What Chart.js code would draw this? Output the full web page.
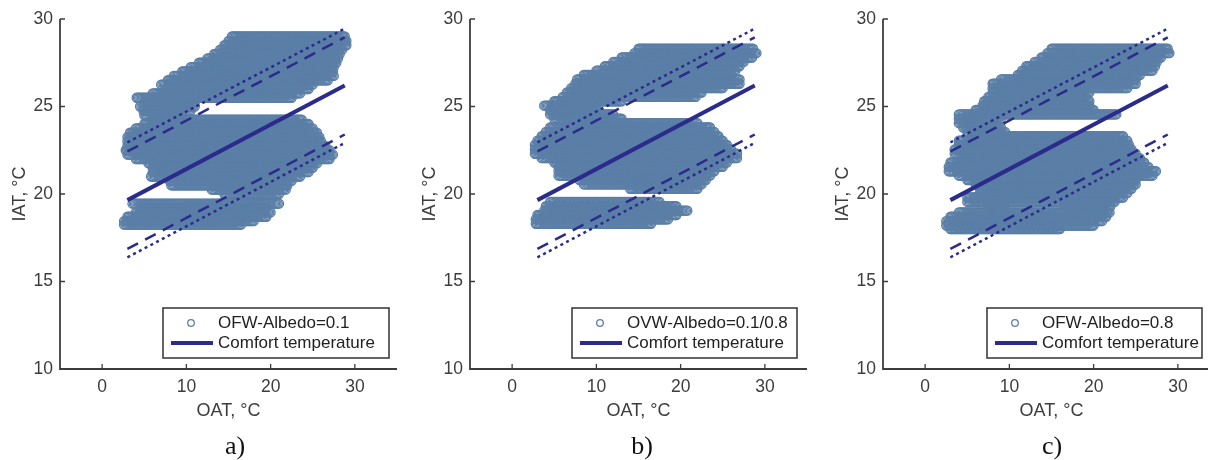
<!DOCTYPE html>
<html lang="en">
<head>
<meta charset="UTF-8">
<title>IAT vs OAT</title>
<script src="https://cdn.jsdelivr.net/npm/chart.js"></script>
<style>
  html, body { margin: 0; padding: 0; background: #fff; overflow: hidden; }
  body { width: 1208px; height: 460px; position: relative; }
  .panel { position: absolute; top: 0; width: 410px; height: 460px; }
  .caption { position: absolute; top: 433px; width: 60px; text-align: center; line-height: 1;
             font-family: "Liberation Serif", "Times New Roman", serif; font-size: 26px; color: #111; }
</style>
</head>
<body>
<div class="panel" style="left:0px"><canvas id="chartA"></canvas></div>
<div class="panel" style="left:410px"><canvas id="chartB"></canvas></div>
<div class="panel" style="left:823px"><canvas id="chartC"></canvas></div>
<div class="caption" style="left:205px">a)</div>
<div class="caption" style="left:612px">b)</div>
<div class="caption" style="left:1022px">c)</div>

<script>
// axis ticks
const oatTicks = [0, 10, 20, 30];
const iatTicks = [10, 15, 20, 25, 30];

// comfort band, same in every panel (OAT start/end of each line)
const bandOat = [3, 28.8];
const comfort = [19.65, 26.2];
const dashUpper = [22.43, 28.95];
const dashLower = [16.86, 23.4];
const dotUpper = [22.95, 29.45];
const dotLower = [16.38, 22.92];

// scatter clouds: one row per IAT level -> [IAT, OAT from, OAT to]
const cloudA = [
  [29.0, 15.4, 28.8], [28.75, 15.0, 29.0], [28.5, 14.5, 29.0], [28.25, 14.0, 28.5],
  [28.0, 13.3, 28.2], [27.75, 12.5, 28.0], [27.5, 11.5, 27.8], [27.25, 10.5, 27.5],
  [27.0, 9.5, 27.4], [26.75, 8.5, 27.5], [26.5, 7.8, 26.8], [26.25, 7.0, 25.0],
  [26.0, 7.5, 24.5], [25.75, 6.0, 23.5], [25.5, 4.1, 22.5], [25.25, 5.0, 11.0],
  [25.0, 4.5, 11.0], [24.75, 4.9, 10.5], [24.5, 5.0, 9.5],
  [24.25, 6.0, 23.7], [24.0, 5.0, 24.5], [23.75, 4.0, 25.0], [23.5, 3.3, 25.5],
  [23.25, 3.0, 25.8], [23.0, 3.0, 26.0], [22.75, 3.0, 26.5], [22.5, 2.8, 27.0],
  [22.25, 3.0, 27.4], [22.0, 4.0, 27.0], [21.75, 5.5, 25.5], [21.5, 6.0, 25.0],
  [21.25, 6.0, 24.5], [21.0, 5.8, 23.5], [20.75, 8.0, 22.5], [20.5, 8.2, 22.0],
  [20.25, 13.0, 21.8], [20.0, 14.5, 21.0],
  [19.45, 3.6, 21.0], [19.2, 4.5, 19.5], [18.95, 4.0, 20.0], [18.7, 3.0, 19.5],
  [18.45, 2.6, 18.0], [18.25, 2.6, 16.5]
];
const cloudB = [
  [28.3, 15.0, 28.6], [28.05, 14.5, 29.0], [27.8, 13.0, 28.5], [27.55, 12.0, 27.5],
  [27.3, 11.0, 27.0], [27.05, 10.0, 26.5], [26.8, 8.5, 26.0], [26.55, 7.7, 27.0],
  [26.3, 7.5, 27.0], [26.05, 7.0, 25.0], [25.8, 6.5, 22.5], [25.55, 6.0, 21.8],
  [25.3, 5.0, 13.0], [25.05, 3.8, 10.0], [24.8, 4.5, 10.0], [24.55, 4.5, 12.0],
  [24.3, 5.0, 13.0],
  [24.05, 8.0, 22.0], [23.8, 4.5, 23.5], [23.55, 4.0, 24.0], [23.3, 3.5, 24.5],
  [23.05, 3.0, 25.0], [22.8, 2.7, 25.5], [22.55, 2.7, 26.0], [22.3, 2.7, 26.7],
  [22.05, 3.5, 26.7], [21.8, 5.0, 25.5], [21.55, 5.5, 25.0], [21.3, 5.5, 24.0],
  [21.05, 5.5, 23.5], [20.8, 8.0, 23.0], [20.55, 8.5, 22.5], [20.3, 14.0, 22.0],
  [19.55, 4.5, 17.5], [19.3, 4.0, 19.5], [19.05, 3.8, 20.8], [18.8, 3.0, 19.5],
  [18.55, 2.8, 18.5], [18.3, 2.8, 16.5]
];
const cloudC = [
  [28.3, 15.0, 28.8], [28.05, 14.5, 29.0], [27.8, 13.8, 28.0], [27.55, 13.0, 27.5],
  [27.3, 12.0, 27.3], [27.05, 11.5, 27.0], [26.8, 11.0, 25.5], [26.55, 9.0, 25.0],
  [26.3, 8.0, 25.0], [26.05, 8.0, 24.0], [25.8, 8.0, 19.5], [25.55, 7.5, 19.0],
  [25.3, 7.0, 19.5], [25.05, 6.8, 19.5], [24.8, 6.0, 20.0], [24.55, 4.0, 22.7],
  [24.3, 4.0, 9.0], [24.05, 4.0, 8.5], [23.8, 4.5, 9.0], [23.55, 5.0, 9.5],
  [23.3, 5.5, 23.5], [23.05, 4.0, 24.0], [22.8, 4.0, 24.2], [22.55, 3.5, 24.5],
  [22.3, 3.5, 25.0], [22.05, 4.3, 25.5], [21.8, 3.0, 26.0], [21.55, 2.8, 26.5],
  [21.3, 2.8, 27.4], [21.05, 4.0, 27.0], [20.8, 5.0, 25.0], [20.55, 6.0, 25.0],
  [20.3, 6.5, 24.5], [20.05, 6.5, 24.0], [19.8, 5.0, 23.5], [19.55, 5.0, 22.5],
  [19.3, 7.5, 9.5], [19.3, 16.5, 22.0],
  [18.95, 4.0, 21.9], [18.7, 3.0, 21.5], [18.45, 2.5, 21.0], [18.2, 2.5, 20.0],
  [18.0, 3.0, 16.0]
];

const OAT_STEP = 0.15;
const SERIES_COLOR = '#5b7fa7';
const LINE_COLOR = '#2b2b8c';
const AXIS_COLOR = '#3d3d3d';
const FONT = '"Liberation Sans", Arial, Helvetica, sans-serif';

// rows of markers along each cloud row
function cloudPoints(rows) {
  const pts = [];
  rows.forEach(([iat, from, to]) => {
    const n = Math.max(1, Math.round((to - from) / OAT_STEP));
    for (let i = 0; i <= n; i++) pts.push({ x: from + (to - from) * i / n, y: iat });
  });
  return pts;
}

function bandLine(vals, dash, width, order) {
  return {
    data: bandOat.map((x, i) => ({ x: x, y: vals[i] })),
    showLine: true, borderColor: LINE_COLOR, borderWidth: width, borderDash: dash,
    pointRadius: 0, order: order
  };
}

// MATLAB-like axes: L-shaped box, inward ticks, boxed legend bottom right
const matlabAxes = {
  id: 'matlabAxes',
  afterDraw(chart, args, opts) {
    const { ctx, chartArea: a, scales: { x, y } } = chart;
    ctx.save();
    ctx.strokeStyle = AXIS_COLOR;
    ctx.lineWidth = 1.8;
    ctx.beginPath();
    ctx.moveTo(a.left, a.top);
    ctx.lineTo(a.left, a.bottom);
    ctx.lineTo(a.right, a.bottom);
    ctx.stroke();
    ctx.lineWidth = 1.3;
    ctx.beginPath();
    x.ticks.forEach(t => {
      const px = x.getPixelForValue(t.value);
      ctx.moveTo(px, a.bottom); ctx.lineTo(px, a.bottom - 5);
    });
    y.ticks.forEach(t => {
      const py = y.getPixelForValue(t.value);
      ctx.moveTo(a.left, py); ctx.lineTo(a.left + 5, py);
    });
    ctx.stroke();

    // legend
    const w = opts.width, h = 50;
    const left = a.right - opts.gap - w, top = a.bottom - 11 - h;
    ctx.fillStyle = '#fff';
    ctx.fillRect(left, top, w, h);
    ctx.strokeStyle = '#333';
    ctx.lineWidth = 1.5;
    ctx.strokeRect(left, top, w, h);
    ctx.strokeStyle = SERIES_COLOR;
    ctx.lineWidth = 1.3;
    ctx.beginPath();
    ctx.arc(left + 28, top + 15, 3.3, 0, Math.PI * 2);
    ctx.stroke();
    ctx.strokeStyle = LINE_COLOR;
    ctx.lineWidth = 4;
    ctx.beginPath();
    ctx.moveTo(left + 8, top + 35);
    ctx.lineTo(left + 50, top + 35);
    ctx.stroke();
    ctx.fillStyle = '#222';
    ctx.font = '17px ' + FONT;
    ctx.textBaseline = 'middle';
    ctx.textAlign = 'left';
    ctx.fillText(opts.label, left + 55, top + 15);
    ctx.fillText('Comfort temperature', left + 55, top + 35);
    ctx.restore();
  }
};

function makePanel(id, cloud, label, legendWidth, legendGap) {
  const tickFont = { family: FONT, size: 17.5 };
  new Chart(document.getElementById(id), {
    type: 'scatter',
    data: {
      datasets: [
        bandLine(comfort, [], 4, 0),
        bandLine(dashUpper, [12, 8], 2.5, 1),
        bandLine(dashLower, [12, 8], 2.5, 2),
        bandLine(dotUpper, [3, 3.5], 2.5, 3),
        bandLine(dotLower, [3, 3.5], 2.5, 4),
        {
          data: cloudPoints(cloud), pointStyle: 'circle', pointRadius: 4.5,
          pointBorderWidth: 1.3, borderColor: SERIES_COLOR, backgroundColor: 'rgba(0,0,0,0)',
          order: 5
        }
      ]
    },
    options: {
      animation: false,
      responsive: true,
      maintainAspectRatio: false,
      events: [],
      layout: { padding: { top: 19, right: 13, bottom: 31, left: 0 } },
      plugins: {
        legend: { display: false },
        tooltip: { enabled: false },
        matlabAxes: { label: label, width: legendWidth, gap: legendGap }
      },
      scales: {
        x: {
          type: 'linear', min: -5, max: 35,
          afterBuildTicks: s => { s.ticks = oatTicks.map(v => ({ value: v })); },
          afterFit: s => { s.height = 60; s.paddingLeft = 0; s.paddingRight = 0; },
          grid: { display: false, drawTicks: false },
          border: { display: false },
          ticks: { color: AXIS_COLOR, font: tickFont, padding: 8, maxRotation: 0 },
          title: { display: true, text: 'OAT, °C', color: AXIS_COLOR,
                   font: { family: FONT, size: 18 }, padding: { top: 0, bottom: 7 } }
        },
        y: {
          type: 'linear', min: 10, max: 30,
          afterBuildTicks: s => { s.ticks = iatTicks.map(v => ({ value: v })); },
          afterFit: s => { s.width = 60; s.paddingTop = 0; s.paddingBottom = 0; },
          grid: { display: false, drawTicks: false },
          border: { display: false },
          ticks: { color: AXIS_COLOR, font: tickFont, padding: 7 },
          title: { display: true, text: 'IAT, °C', color: AXIS_COLOR,
                   font: { family: FONT, size: 18 }, padding: { top: 9, bottom: 0 } }
        }
      }
    },
    plugins: [matlabAxes]
  });
}

makePanel('chartA', cloudA, 'OFW-Albedo=0.1', 226, 8);
makePanel('chartB', cloudB, 'OVW-Albedo=0.1/0.8', 225, 10);
makePanel('chartC', cloudC, 'OFW-Albedo=0.8', 215, 18);
</script>
</body>
</html>
